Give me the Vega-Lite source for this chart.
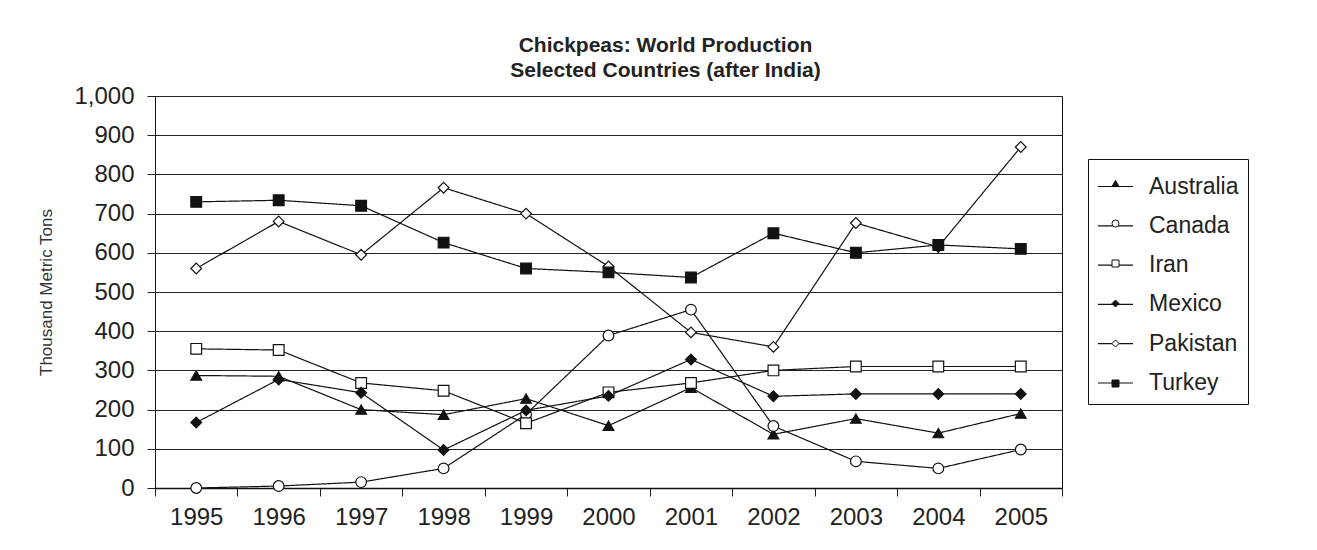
{
  "$schema": "https://vega.github.io/schema/vega-lite/v6.json",
  "width": 907,
  "height": 392,
  "autosize": {"type": "none"},
  "padding": {"left": 155, "top": 96, "right": 255, "bottom": 62},
  "background": "white",
  "title": {
    "text": ["Chickpeas: World Production", "Selected Countries (after India)"],
    "anchor": "middle",
    "frame": "group",
    "dx": 57,
    "offset": 3,
    "font": "Liberation Sans",
    "fontSize": 21,
    "fontWeight": "bold",
    "lineHeight": 25,
    "color": "#222"
  },
  "config": {
    "font": "Liberation Sans",
    "view": {"stroke": "#111", "strokeWidth": 1},
    "axis": {"labelFont": "Liberation Sans", "titleFont": "Liberation Sans", "labelColor": "#222", "titleColor": "#333"}
  },
  "data": {
    "values": [
      {"year": 1995, "country": "Australia", "tons": 287},
      {"year": 1996, "country": "Australia", "tons": 285},
      {"year": 1997, "country": "Australia", "tons": 200},
      {"year": 1998, "country": "Australia", "tons": 187},
      {"year": 1999, "country": "Australia", "tons": 228},
      {"year": 2000, "country": "Australia", "tons": 159},
      {"year": 2001, "country": "Australia", "tons": 256},
      {"year": 2002, "country": "Australia", "tons": 137},
      {"year": 2003, "country": "Australia", "tons": 177},
      {"year": 2004, "country": "Australia", "tons": 140},
      {"year": 2005, "country": "Australia", "tons": 190},
      {"year": 1995, "country": "Canada", "tons": 0},
      {"year": 1996, "country": "Canada", "tons": 5},
      {"year": 1997, "country": "Canada", "tons": 15},
      {"year": 1998, "country": "Canada", "tons": 50},
      {"year": 1999, "country": "Canada", "tons": 188},
      {"year": 2000, "country": "Canada", "tons": 389},
      {"year": 2001, "country": "Canada", "tons": 455},
      {"year": 2002, "country": "Canada", "tons": 158},
      {"year": 2003, "country": "Canada", "tons": 68},
      {"year": 2004, "country": "Canada", "tons": 50},
      {"year": 2005, "country": "Canada", "tons": 98},
      {"year": 1995, "country": "Iran", "tons": 355},
      {"year": 1996, "country": "Iran", "tons": 352},
      {"year": 1997, "country": "Iran", "tons": 268},
      {"year": 1998, "country": "Iran", "tons": 248},
      {"year": 1999, "country": "Iran", "tons": 165},
      {"year": 2000, "country": "Iran", "tons": 244},
      {"year": 2001, "country": "Iran", "tons": 268},
      {"year": 2002, "country": "Iran", "tons": 300},
      {"year": 2003, "country": "Iran", "tons": 310},
      {"year": 2004, "country": "Iran", "tons": 310},
      {"year": 2005, "country": "Iran", "tons": 310},
      {"year": 1995, "country": "Mexico", "tons": 167},
      {"year": 1996, "country": "Mexico", "tons": 277},
      {"year": 1997, "country": "Mexico", "tons": 243},
      {"year": 1998, "country": "Mexico", "tons": 97},
      {"year": 1999, "country": "Mexico", "tons": 198},
      {"year": 2000, "country": "Mexico", "tons": 235},
      {"year": 2001, "country": "Mexico", "tons": 328},
      {"year": 2002, "country": "Mexico", "tons": 234},
      {"year": 2003, "country": "Mexico", "tons": 240},
      {"year": 2004, "country": "Mexico", "tons": 240},
      {"year": 2005, "country": "Mexico", "tons": 240},
      {"year": 1995, "country": "Pakistan", "tons": 560},
      {"year": 1996, "country": "Pakistan", "tons": 680},
      {"year": 1997, "country": "Pakistan", "tons": 595},
      {"year": 1998, "country": "Pakistan", "tons": 766},
      {"year": 1999, "country": "Pakistan", "tons": 700},
      {"year": 2000, "country": "Pakistan", "tons": 565},
      {"year": 2001, "country": "Pakistan", "tons": 397},
      {"year": 2002, "country": "Pakistan", "tons": 360},
      {"year": 2003, "country": "Pakistan", "tons": 676},
      {"year": 2004, "country": "Pakistan", "tons": 615},
      {"year": 2005, "country": "Pakistan", "tons": 870},
      {"year": 1995, "country": "Turkey", "tons": 730},
      {"year": 1996, "country": "Turkey", "tons": 734},
      {"year": 1997, "country": "Turkey", "tons": 720},
      {"year": 1998, "country": "Turkey", "tons": 626},
      {"year": 1999, "country": "Turkey", "tons": 560},
      {"year": 2000, "country": "Turkey", "tons": 550},
      {"year": 2001, "country": "Turkey", "tons": 537},
      {"year": 2002, "country": "Turkey", "tons": 650},
      {"year": 2003, "country": "Turkey", "tons": 600},
      {"year": 2004, "country": "Turkey", "tons": 620},
      {"year": 2005, "country": "Turkey", "tons": 610}
    ]
  },
  "encoding": {
    "y": {
      "field": "tons",
      "type": "quantitative",
      "scale": {"domain": [0, 1000], "nice": false, "zero": true},
      "axis": {
        "title": "Thousand Metric Tons",
        "titleFontSize": 17,
        "titleFontWeight": "normal",
        "titlePadding": 18,
        "values": [0, 100, 200, 300, 400, 500, 600, 700, 800, 900, 1000],
        "format": ",d",
        "labelFontSize": 24,
        "labelPadding": 13,
        "tickSize": 8,
        "tickColor": "#222",
        "domainColor": "#111",
        "grid": true,
        "gridColor": "#222",
        "gridWidth": 1
      }
    }
  },
  "layer": [
    {
      "mark": {"type": "line", "color": "#111", "strokeWidth": 1.2},
      "encoding": {
        "x": {
          "field": "year",
          "type": "quantitative",
          "scale": {"domain": [1994.5, 2005.5], "nice": false, "zero": false},
          "axis": {
            "orient": "bottom",
            "title": null,
            "values": [1994.5, 1995.5, 1996.5, 1997.5, 1998.5, 1999.5, 2000.5, 2001.5, 2002.5, 2003.5, 2004.5, 2005.5],
            "labels": false,
            "grid": false,
            "tickSize": 8,
            "tickColor": "#222",
            "domainColor": "#111",
            "domainWidth": 1.5
          }
        },
        "strokeDash": {
          "field": "country",
          "type": "nominal",
          "scale": {"range": [[1, 0], [1, 0], [1, 0], [1, 0], [1, 0], [1, 0]]},
          "legend": {
            "title": null,
            "orient": "none",
            "legendX": 933,
            "legendY": 63,
            "padding": 9,
            "strokeColor": "#111",
            "symbolSize": 1225,
            "symbolStrokeWidth": 1.2,
            "symbolStrokeColor": "#111",
            "labelFontSize": 23,
            "labelColor": "#222",
            "labelOffset": 15,
            "rowPadding": 8.3,
            "labelFont": "Liberation Sans"
          }
        }
      }
    },
    {
      "mark": {"type": "point", "filled": false, "strokeWidth": 1.2, "size": 115, "opacity": 1},
      "encoding": {
        "x": {
          "field": "year",
          "type": "quantitative",
          "axis": {
            "orient": "bottom",
            "title": null,
            "values": [1995, 1996, 1997, 1998, 1999, 2000, 2001, 2002, 2003, 2004, 2005],
            "format": "d",
            "ticks": false,
            "domain": false,
            "grid": false,
            "labelFontSize": 24,
            "labelPadding": 17
          }
        },
        "shape": {
          "field": "country",
          "type": "nominal",
          "scale": {"range": ["triangle-up", "circle", "square", "diamond", "diamond", "square"]},
          "legend": {
            "title": null,
            "orient": "none",
            "legendX": 940,
            "legendY": 67,
            "padding": 9,
            "symbolSize": 49,
            "symbolStrokeWidth": 1,
            "labelFontSize": 23,
            "labelOpacity": 0,
            "labelExpr": "' '",
            "labelOffset": 15,
            "rowPadding": 16,
            "labelFont": "Liberation Sans"
          }
        },
        "stroke": {
          "field": "country",
          "type": "nominal",
          "scale": {"range": ["#111", "#111", "#111", "#111", "#111", "#111"]},
          "legend": null
        },
        "fill": {
          "field": "country",
          "type": "nominal",
          "scale": {"range": ["#111", "#fff", "#fff", "#111", "#fff", "#111"]},
          "legend": null
        }
      }
    }
  ],
  "resolve": {"axis": {"x": "independent"}}
}
